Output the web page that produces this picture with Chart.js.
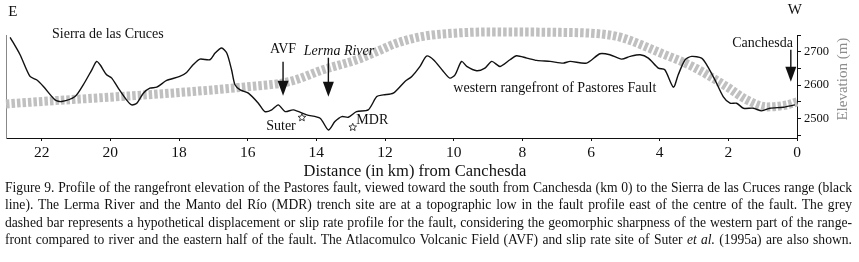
<!DOCTYPE html>
<html>
<head>
<meta charset="utf-8">
<script src="https://cdn.jsdelivr.net/npm/chart.js@4.4.0/dist/chart.umd.min.js"></script>
<style>
  body { margin: 0; background: #fff; }
  #wrap { position: relative; width: 859px; height: 262px; overflow: hidden; }
  #chart { position: absolute; left: 0; top: 0; }
  #caption { position: absolute; left: 5px; top: 179px; width: 847px;
             font-family: "Liberation Serif", serif; font-size: 13.6px; line-height: 17.4px; color: #111; }
  #caption div { text-align: justify; text-align-last: justify; white-space: nowrap; }
</style>
</head>
<body>
<div id="wrap">
  <canvas id="chart" width="859" height="182"></canvas>
  <div id="caption">
    <div>Figure 9. Profile of the rangefront elevation of the Pastores fault, viewed toward the south from Canchesda (km 0) to the Sierra de las Cruces range (black</div>
    <div>line). The Lerma River and the Manto del Río (MDR) trench site are at a topographic low in the fault profile east of the centre of the fault. The grey</div>
    <div>dashed bar represents a hypothetical displacement or slip rate profile for the fault, considering the geomorphic sharpness of the western part of the range-</div>
    <div>front compared to river and the eastern half of the fault. The Atlacomulco Volcanic Field (AVF) and slip rate site of Suter <i>et al.</i> (1995a) are also shown.</div>
  </div>
</div>
<script>
// black line: rangefront elevation (km from Canchesda, metres)
const profileKm = [22.92, 22.63, 22.34, 22.15, 21.95, 21.61, 21.42, 21.03, 20.79, 20.54, 20.40, 20.30, 20.11, 19.96,
  19.77, 19.53, 19.38, 19.23, 19.04, 18.85, 18.65, 18.36, 17.98, 17.78, 17.59, 17.39, 17.10, 16.95, 16.76, 16.61,
  16.47, 16.37, 16.22, 15.98, 15.69, 15.50, 15.30, 15.11, 14.91, 14.67, 14.28, 13.89, 13.65, 13.46, 13.26, 13.07,
  12.83, 12.49, 12.24, 12.05, 11.76, 11.42, 11.22, 10.98, 10.79, 10.59, 10.30, 10.11, 9.96, 9.77, 9.62, 9.33, 9.09,
  8.89, 8.65, 8.36, 8.17, 7.87, 7.58, 7.19, 6.81, 6.61, 6.13, 5.74, 5.45, 5.11, 4.86, 4.57, 4.33, 4.04, 3.85, 3.60,
  3.46, 3.26, 3.07, 2.78, 2.63, 2.39, 2.15, 1.95, 1.76, 1.56, 1.27, 1.03, 0.79, 0.40, 0.06];
const profileElev = [2743, 2691, 2626, 2616, 2596, 2556, 2551, 2566, 2601, 2646, 2671, 2661, 2631, 2621,
  2591, 2556, 2541, 2546, 2576, 2591, 2594, 2614, 2626, 2638, 2661, 2678, 2676, 2696, 2711, 2696,
  2646, 2601, 2586, 2576, 2546, 2521, 2526, 2541, 2521, 2526, 2511, 2501, 2466, 2491, 2506, 2504,
  2521, 2526, 2566, 2571, 2576, 2611, 2626, 2656, 2687, 2676, 2641, 2621, 2631, 2671, 2656, 2643, 2651,
  2671, 2656, 2676, 2688, 2681, 2674, 2671, 2666, 2671, 2666, 2694, 2691, 2678, 2686, 2691, 2681, 2651, 2646, 2594,
  2631, 2676, 2686, 2681, 2661, 2616, 2566, 2546, 2546, 2531, 2531, 2523, 2531, 2534, 2541];

// grey dashed bar: hypothetical slip rate profile
const slipKm = [23.04, 15.93, 14.77, 13.81, 12.82, 12.23, 11.65, 10.89, 9.90, 8.94, 6.99, 5.53, 5.07, 3.99, 3.03, 2.04, 1.46, 0.87, 0.29, 0.0];
const slipElev = [2544, 2596, 2611, 2646, 2676, 2701, 2726, 2746, 2756, 2759, 2758, 2751, 2741, 2697, 2655, 2595, 2556, 2535, 2541, 2550];

const xTickValues = [0, 2, 4, 6, 8, 10, 12, 14, 16, 18, 20, 22];
const yTickValues = [2450, 2500, 2550, 2600, 2650, 2700, 2750];
const yLabelValues = [2500, 2600, 2700];

const serif = '"Liberation Serif", "Times New Roman", serif';

// annotations in data coordinates (km, elevation)
const labels = [
  { text: 'E', km: 22.84, elev: 2820, size: 15, align: 'center' },
  { text: 'W', km: 0.06, elev: 2826, size: 15, align: 'center' },
  { text: 'Sierra de las Cruces', km: 21.70, elev: 2751, size: 14, align: 'left' },
  { text: 'AVF', km: 14.97, elev: 2706, size: 14, align: 'center' },
  { text: 'Lerma River', km: 13.34, elev: 2700, size: 14, align: 'center', italic: true },
  { text: 'Suter', km: 15.03, elev: 2478, size: 14, align: 'center' },
  { text: 'MDR', km: 12.37, elev: 2494, size: 14, align: 'center' },
  { text: 'western rangefront of Pastores Fault', km: 10.01, elev: 2591, size: 14, align: 'left' },
  { text: 'Canchesda', km: 0.12, elev: 2726, size: 14, align: 'right' }
];
const arrows = [
  { km: 14.97, from: 2670, to: 2568 },
  { km: 13.65, from: 2682, to: 2565 },
  { km: 0.18, from: 2706, to: 2610 }
];
const stars = [
  { km: 14.42, elev: 2503 },
  { km: 12.94, elev: 2474 }
];

function toPoints(xs, ys) {
  return xs.map((x, i) => ({ x: x, y: ys[i] }));
}

function drawStar(ctx, cx, cy, r) {
  ctx.beginPath();
  for (let i = 0; i < 10; i++) {
    const rad = i % 2 === 0 ? r : r * 0.45;
    const a = -Math.PI / 2 + i * Math.PI / 5;
    const px = cx + rad * Math.cos(a);
    const py = cy + rad * Math.sin(a);
    if (i === 0) ctx.moveTo(px, py); else ctx.lineTo(px, py);
  }
  ctx.closePath();
  ctx.stroke();
}

const annotationPlugin = {
  id: 'annotations',
  afterDraw(chart) {
    const ctx = chart.ctx;
    const xs = chart.scales.x;
    const ys = chart.scales.y;
    ctx.save();
    ctx.fillStyle = '#111';
    ctx.textBaseline = 'middle';
    labels.forEach(l => {
      ctx.font = (l.italic ? 'italic ' : '') + l.size + 'px ' + serif;
      ctx.textAlign = l.align;
      ctx.fillText(l.text, xs.getPixelForValue(l.km), ys.getPixelForValue(l.elev));
    });

    // arrows
    ctx.strokeStyle = '#111';
    ctx.lineWidth = 1.4;
    arrows.forEach(a => {
      const x = xs.getPixelForValue(a.km);
      const y0 = ys.getPixelForValue(a.from);
      const y1 = ys.getPixelForValue(a.to);
      ctx.beginPath();
      ctx.moveTo(x, y0);
      ctx.lineTo(x, y1 - 10);
      ctx.stroke();
      ctx.beginPath();
      ctx.moveTo(x - 5.5, y1 - 15);
      ctx.lineTo(x + 5.5, y1 - 15);
      ctx.lineTo(x, y1);
      ctx.closePath();
      ctx.fill();
    });

    // stars
    ctx.lineWidth = 0.8;
    stars.forEach(s => drawStar(ctx, xs.getPixelForValue(s.km), ys.getPixelForValue(s.elev), 4));

    // axis titles
    ctx.font = '16.5px ' + serif;
    ctx.textAlign = 'center';
    ctx.fillText('Distance (in km) from Canchesda', xs.getPixelForValue(11.13), xs.bottom - 10);

    ctx.fillStyle = '#8c8c8c';
    ctx.font = '15px ' + serif;
    ctx.translate(843, ys.getPixelForValue(2618));
    ctx.rotate(-Math.PI / 2);
    ctx.fillText('Elevation (m)', 0, 0);
    ctx.restore();
  }
};

new Chart(document.getElementById('chart'), {
  type: 'line',
  data: {
    datasets: [
      {
        label: 'Rangefront elevation',
        data: toPoints(profileKm, profileElev),
        borderColor: '#111',
        borderWidth: 1.4,
        pointRadius: 0,
        tension: 0.25,
        fill: false
      },
      {
        label: 'Slip rate profile',
        data: toPoints(slipKm, slipElev),
        borderColor: '#c0c0c0',
        borderWidth: 9,
        borderDash: [3.5, 2],
        borderCapStyle: 'butt',
        cubicInterpolationMode: 'monotone',
        pointRadius: 0,
        fill: false,
        clip: false
      }
    ]
  },
  options: {
    responsive: false,
    animation: false,
    devicePixelRatio: 1,
    layout: { padding: { left: 6, top: 35, right: 0, bottom: 0 } },
    plugins: { legend: { display: false }, tooltip: { enabled: false } },
    scales: {
      x: {
        type: 'linear',
        reverse: true,
        min: 0,
        max: 23.04,
        afterBuildTicks: s => { s.ticks = xTickValues.map(v => ({ value: v })); },
        afterFit: s => { s.height = 44; },
        grid: { drawOnChartArea: false, tickLength: 3, color: '#111' },
        border: { color: '#111', width: 1 },
        ticks: { color: '#111', padding: 3, maxRotation: 0, autoSkip: false, font: { family: serif, size: 15.5 } }
      },
      y: {
        position: 'right',
        min: 2442,
        max: 2750,
        afterBuildTicks: s => { s.ticks = yTickValues.map(v => ({ value: v })); },
        afterFit: s => { s.width = 62; },
        grid: { drawOnChartArea: false, tickLength: 4, color: '#111' },
        border: { color: '#111', width: 1 },
        ticks: {
          color: '#111', padding: 3, autoSkip: false, font: { family: serif, size: 12.5 },
          callback: v => yLabelValues.includes(v) ? String(v) : ''
        }
      },
      yLeft: {
        position: 'left',
        min: 2442,
        max: 2750,
        afterFit: s => { s.width = 0; },
        grid: { drawOnChartArea: false, drawTicks: false },
        border: { color: '#888', width: 1 },
        ticks: { display: false }
      }
    }
  },
  plugins: [annotationPlugin]
});
</script>
</body>
</html>
